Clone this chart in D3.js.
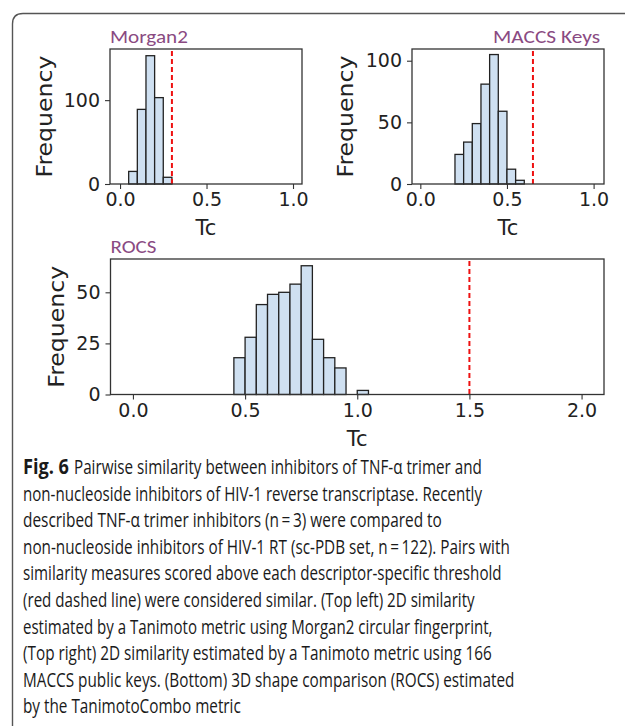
<!DOCTYPE html>
<html>
<head>
<meta charset="utf-8">
<script src="https://cdn.jsdelivr.net/npm/d3@7"></script>
<style>
  body { margin: 0; background: #fff; }
  svg { display: block; }
</style>
</head>
<body>
<svg id="contenedor"></svg>
<script>
// histogramas: inicio de cada bin (ancho 0.05) y frecuencia
let morganBins = [0.05, 0.10, 0.15, 0.20, 0.25];
let morganFreq = [15, 89, 153, 103, 8];
let morganUmbral = 0.30;

let maccsBins = [0.20, 0.25, 0.30, 0.35, 0.40, 0.45, 0.50, 0.55];
let maccsFreq = [24, 34, 49, 81, 105, 59, 12, 3];
let maccsUmbral = 0.65;

let rocsBins = [0.45, 0.50, 0.55, 0.60, 0.65, 0.70, 0.75, 0.80, 0.85, 0.90, 0.95, 1.00];
let rocsFreq = [18, 28, 44, 49, 50, 54, 63, 27, 18, 13, 0, 2];
let rocsUmbral = 1.5;

let anchoBin = 0.05;

let ticksMorgan = [0.0, 0.5, 1.0];
let ticksMaccs = [0.0, 0.5, 1.0];
let ticksRocs = [0.0, 0.5, 1.0, 1.5, 2.0];
let yTicksMorgan = [0, 100];
let yTicksMaccs = [0, 50, 100];
let yTicksRocs = [0, 25, 50];

let leyenda = [
  "Pairwise similarity between inhibitors of TNF-\u03b1 trimer and",
  "non-nucleoside inhibitors of HIV-1 reverse transcriptase. Recently",
  "described TNF-\u03b1 trimer inhibitors (n\u2009=\u20093) were compared to",
  "non-nucleoside inhibitors of HIV-1 RT (sc-PDB set, n\u2009=\u2009122). Pairs with",
  "similarity measures scored above each descriptor-specific threshold",
  "(red dashed line) were considered similar. (Top left) 2D similarity",
  "estimated by a Tanimoto metric using Morgan2 circular fingerprint,",
  "(Top right) 2D similarity estimated by a Tanimoto metric using 166",
  "MACCS public keys. (Bottom) 3D shape comparison (ROCS) estimated",
  "by the TanimotoCombo metric"
];
// largo de cada línea de la leyenda (px)
let largoLineas = [408, 459, 419, 487, 479, 452, 470, 469, 492, 218];

let width = 625;
let height = 726;
let svg = d3.select("#contenedor").attr("width", width).attr("height", height);

// marco redondeado de la figura
svg.append("path")
  .attr("d", "M12.5,740 L12.5,24 Q12.5,13.5 23,13.5 L640,13.5")
  .attr("fill", "none")
  .attr("stroke", "#555")
  .attr("stroke-width", 1.4);

let fontEjes = "'DejaVu Sans', sans-serif";
let fontTitulo = "Carlito, 'Open Sans', 'Noto Sans', sans-serif";

// ajusta el ancho de un texto escalando solo en x
function ajustarAncho(sel, x, y, largo, ancla) {
  let w = sel.node().getComputedTextLength();
  let s = largo / w;
  sel.attr("x", 0).attr("y", 0)
    .attr("transform", `translate(${x},${y}) scale(${s},1)`);
  if (ancla) sel.attr("text-anchor", ancla);
}

function dibujarHistograma(cfg) {
  let { left, right, top, bottom, xDom, yMax, bins, freq, umbral, xTicks, yTicks, titulo, tituloAlign, tituloLargo } = cfg;

  let xScale = d3.scaleLinear().domain(xDom).range([left, right]);
  let yScale = d3.scaleLinear().domain([0, yMax]).range([bottom, top]);

  let g = svg.append("g");

  let datos = bins.map((b, i) => ({ x0: b, x1: b + anchoBin, n: freq[i] }));

  g.selectAll(".bar")
    .data(datos.filter((d) => d.n > 0))
    .enter()
    .append("rect")
    .attr("x", (d) => xScale(d.x0))
    .attr("y", (d) => yScale(d.n))
    .attr("width", (d) => xScale(d.x1) - xScale(d.x0))
    .attr("height", (d) => yScale(0) - yScale(d.n))
    .attr("fill", "#cfe0f1")
    .attr("stroke", "#222")
    .attr("stroke-width", 1.3);

  // línea de umbral
  g.append("line")
    .attr("x1", xScale(umbral))
    .attr("x2", xScale(umbral))
    .attr("y1", top + 2)
    .attr("y2", bottom)
    .attr("stroke", "#ee1111")
    .attr("stroke-width", 2)
    .attr("stroke-dasharray", "5,3");

  // ejes
  let ejeX = g.append("g")
    .attr("transform", `translate(0,${bottom})`)
    .call(d3.axisBottom(xScale).tickValues(xTicks).tickFormat(d3.format(".1f")).tickSize(5).tickPadding(4));
  let ejeY = g.append("g")
    .attr("transform", `translate(${left},0)`)
    .call(d3.axisLeft(yScale).tickValues(yTicks).tickSize(5).tickPadding(5));

  [ejeX, ejeY].forEach((e) => {
    e.attr("font-family", fontEjes).attr("font-size", 19);
    e.select(".domain").remove();
    e.selectAll("line").attr("stroke", "#333").attr("stroke-width", 1.1);
    e.selectAll("text")
      .style("font-family", fontEjes)
      .style("font-size", "19px")
      .attr("fill", "#222");
  });

  // marco del área
  g.append("rect")
    .attr("x", left)
    .attr("y", top)
    .attr("width", right - left)
    .attr("height", bottom - top)
    .attr("fill", "none")
    .attr("stroke", "#333")
    .attr("stroke-width", 1.3);

  // etiquetas
  g.append("text")
    .attr("x", (left + right) / 2)
    .attr("y", bottom + 51)
    .attr("text-anchor", "middle")
    .style("font-family", fontEjes)
    .style("font-size", "21px")
    .attr("fill", "#222")
    .text("Tc");

  let freqLabel = g.append("text")
    .attr("text-anchor", "middle")
    .style("font-family", fontEjes)
    .style("font-size", "21px")
    .attr("fill", "#222")
    .text("Frequency");
  let wf = freqLabel.node().getComputedTextLength();
  freqLabel.attr("transform",
    `translate(${cfg.yLabelX},${(top + bottom) / 2}) rotate(-90) scale(${122 / wf},1)`);

  let tit = g.append("text")
    .style("font-family", fontTitulo)
    .style("font-size", "18px")
    .attr("fill", "#8a4a82")
    .text(titulo);
  ajustarAncho(tit, tituloAlign === "end" ? right - 4 : left, top - 6, tituloLargo, tituloAlign);
}

dibujarHistograma({
  left: 110, right: 302, top: 49, bottom: 184,
  xDom: [-0.058, 1.052], yMax: 161,
  bins: morganBins, freq: morganFreq, umbral: morganUmbral,
  xTicks: ticksMorgan, yTicks: yTicksMorgan,
  titulo: "Morgan2", tituloAlign: "start", tituloLargo: 78, yLabelX: 52
});

dibujarHistograma({
  left: 412, right: 604, top: 49, bottom: 184,
  xDom: [-0.048, 1.06], yMax: 109.5,
  bins: maccsBins, freq: maccsFreq, umbral: maccsUmbral,
  xTicks: ticksMaccs, yTicks: yTicksMaccs,
  titulo: "MACCS Keys", tituloAlign: "end", tituloLargo: 107, yLabelX: 353
});

dibujarHistograma({
  left: 110.5, right: 604, top: 259, bottom: 394.5,
  xDom: [-0.1, 2.1], yMax: 66.3,
  bins: rocsBins, freq: rocsFreq, umbral: rocsUmbral,
  xTicks: ticksRocs, yTicks: yTicksRocs,
  titulo: "ROCS", tituloAlign: "start", tituloLargo: 46, yLabelX: 64
});

// leyenda de la figura
let fontLeyenda = "'Open Sans', 'Noto Sans', sans-serif";
let caption = svg.append("g");

caption.selectAll(".linea")
  .data(leyenda)
  .enter()
  .append("text")
  .attr("class", "linea")
  .style("font-family", fontLeyenda)
  .style("font-size", "20.5px")
  .attr("fill", "#1a1a1a")
  .text((d) => d)
  .each(function (d, i) {
    ajustarAncho(d3.select(this), i === 0 ? 74 : 23, 474 + i * 26.6, largoLineas[i]);
  });

let fig = caption.append("text")
  .style("font-family", fontLeyenda)
  .style("font-size", "20.5px")
  .attr("font-weight", "bold")
  .attr("fill", "#1a1a1a")
  .text("Fig. 6");
ajustarAncho(fig, 23, 474, 46);
</script>
</body>
</html>
